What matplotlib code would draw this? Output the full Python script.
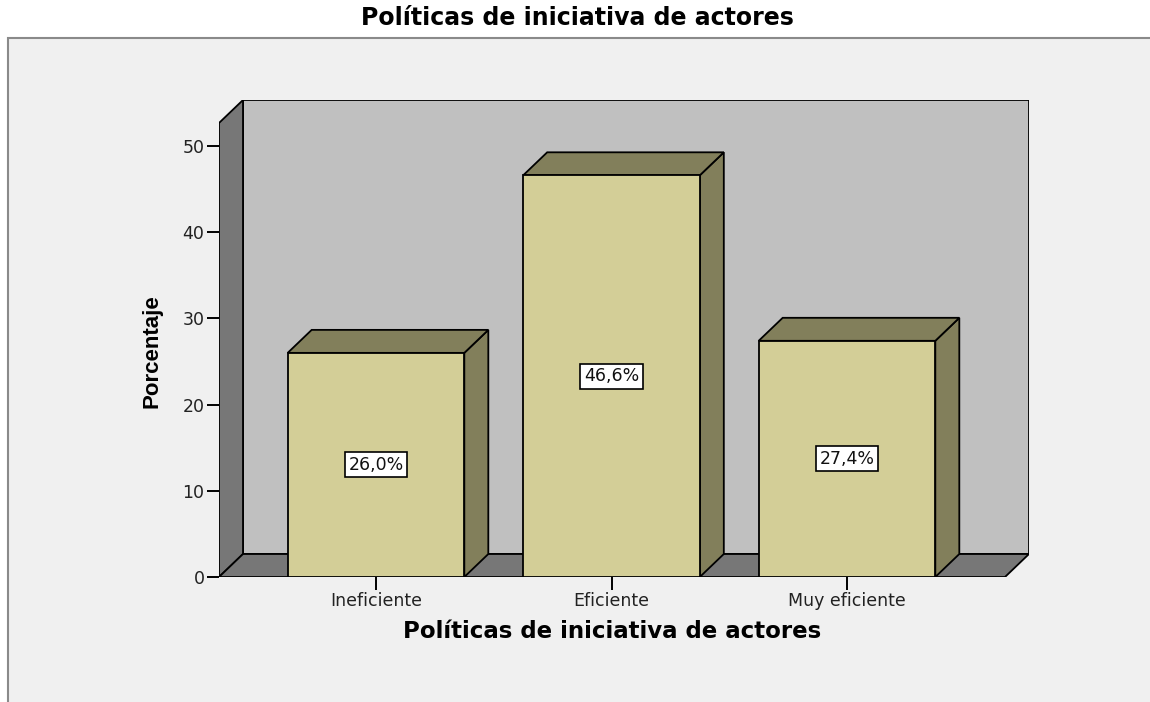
import matplotlib
matplotlib.use("Agg")
import matplotlib.pyplot as plt
from matplotlib.patches import Polygon, Rectangle

categories = ["Ineficiente", "Eficiente", "Muy eficiente"]
valores = [26.0, 46.6, 27.4]
etiquetas = ["26,0%", "46,6%", "27,4%"]
yticks = [0, 10, 20, 30, 40, 50]

titulo = "Políticas de iniciativa de actores"

W, H = 1150, 702
fig = plt.figure(figsize=(W / 100, H / 100), dpi=100, facecolor="white")
plt.rcParams["font.family"] = ["DejaVu Sans"]

# marco gris del grafico (se corta por la derecha y por abajo)
fig.add_artist(Rectangle((8 / W, -0.1), 1.2, 1 - 38 / H + 0.1,
                         transform=fig.transFigure, facecolor="#f0f0f0",
                         edgecolor="#8a8a8a", lw=1.5, zorder=0))

# ejes: frente y=0 en 577px, 50 en 146px
px_unit = (577 - 146) / 50
x_left_px, x_right_px = 219, 1029
y_bot_px, y_top_px = 577, 100
ax = fig.add_axes([x_left_px / W, 1 - y_bot_px / H,
                   (x_right_px - x_left_px) / W, (y_bot_px - y_top_px) / H])
ax.set_facecolor("none")

paso = 235.5
x0 = (219 - 376) / paso
xmax = x0 + (x_right_px - x_left_px) / paso
ytop = (y_bot_px - y_top_px) / px_unit
ax.set_xlim(x0, xmax)
ax.set_ylim(0, ytop)

ddx = 24 / paso
ddy = 23 / px_unit
xR = xmax - ddx
lw = 1.3

# pared del fondo, pared izquierda y suelo
ax.add_patch(Polygon([(x0 + ddx, ddy), (xmax, ddy), (xmax, ytop), (x0 + ddx, ytop)],
                     facecolor="#c0c0c0", edgecolor="black", lw=lw, zorder=1))
ax.add_patch(Polygon([(x0, 0), (x0 + ddx, ddy), (x0 + ddx, ytop), (x0, ytop - ddy)],
                     facecolor="#777777", edgecolor="black", lw=lw, zorder=2))
ax.add_patch(Polygon([(x0, 0), (x0 + ddx, ddy), (xmax, ddy), (xR, 0)],
                     facecolor="#777777", edgecolor="black", lw=lw, zorder=2))

ancho = 0.75
for i, (v, lab) in enumerate(zip(valores, etiquetas)):
    a, b = i - ancho / 2, i + ancho / 2
    ax.add_patch(Polygon([(b, 0), (b + ddx, ddy), (b + ddx, v + ddy), (b, v)],
                         facecolor="#827f5b", edgecolor="black", lw=lw, zorder=3))
    ax.add_patch(Polygon([(a, v), (a + ddx, v + ddy), (b + ddx, v + ddy), (b, v)],
                         facecolor="#827f5b", edgecolor="black", lw=lw, zorder=3))
    ax.add_patch(Rectangle((a, 0), ancho, v, facecolor="#d3ce97",
                           edgecolor="black", lw=lw, zorder=4))
    ax.text(i, v / 2, lab, ha="center", va="center", fontsize=12.5, zorder=5,
            color="#111111",
            bbox=dict(boxstyle="square,pad=0.2", facecolor="white",
                      edgecolor="black", lw=1.2))

for s in ax.spines.values():
    s.set_visible(False)
ax.set_yticks(yticks)
ax.set_xticks(range(len(categories)))
ax.set_xticklabels(categories)
ax.tick_params(axis="both", length=9, width=1.4, color="black",
               labelsize=12.5, labelcolor="#222222", pad=1.5)

ax.set_xlabel(titulo, fontsize=16.5, fontweight="bold")
ax.xaxis.set_label_coords((612 - 219) / 810, (577 - 632) / 477)
ax.xaxis.label.set_va("center")
ax.set_ylabel("Porcentaje", fontsize=16, fontweight="bold",
              family=["Liberation Sans"])
ax.yaxis.set_label_coords((152 - 219) / 810, (577 - 351) / 477)
ax.yaxis.label.set_va("center")

fig.text(577 / W, 1 - 18 / H, titulo, ha="center", va="center",
         fontsize=17, fontweight="bold")

fig.savefig("out.png", dpi=100)
